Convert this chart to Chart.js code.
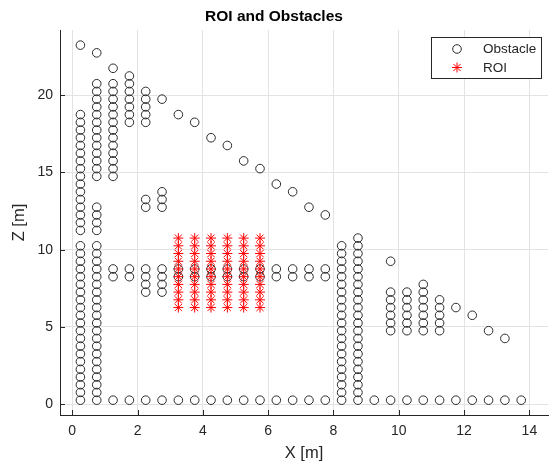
<!DOCTYPE html>
<html>
<head>
<meta charset="utf-8">
<title>ROI and Obstacles</title>
<script src="https://cdn.jsdelivr.net/npm/chart.js@4.4.0/dist/chart.umd.min.js"></script>
<style>
  html, body { margin: 0; padding: 0; background: #ffffff; }
  #wrap { width: 550px; height: 466px; position: relative; }
</style>
</head>
<body>
<div id="wrap"><canvas id="chart" width="550" height="466"></canvas></div>
<script>
// Obstacle cells: one x position per column, with the Z values occupied in that column
const obstacleX = [
  0.25, 0.75, 1.25, 1.75, 2.25, 2.75, 3.25, 3.75, 4.25, 4.75,
  5.25, 5.75, 6.25, 6.75, 7.25, 7.75, 8.25, 8.75, 9.25, 9.75,
  10.25, 10.75, 11.25, 11.75, 12.25, 12.75, 13.25, 13.75
];
const obstacleZ = [
  [23.25, 18.75, 18.25, 17.75, 17.25, 16.75, 16.25, 15.75, 15.25, 14.75, 14.25, 13.75, 13.25, 12.75, 12.25, 11.75, 11.25,
   10.25, 9.75, 9.25, 8.75, 8.25, 7.75, 7.25, 6.75, 6.25, 5.75, 5.25, 4.75, 4.25, 3.75, 3.25, 2.75, 2.25, 1.75, 1.25, 0.75, 0.25],
  [22.75, 20.75, 20.25, 19.75, 19.25, 18.75, 18.25, 17.75, 17.25, 16.75, 16.25, 15.75, 15.25, 14.75,
   12.75, 12.25, 11.75, 11.25,
   10.25, 9.75, 9.25, 8.75, 8.25, 7.75, 7.25, 6.75, 6.25, 5.75, 5.25, 4.75, 4.25, 3.75, 3.25, 2.75, 2.25, 1.75, 1.25, 0.75, 0.25],
  [21.75, 20.75, 20.25, 19.75, 19.25, 18.75, 18.25, 17.75, 17.25, 16.75, 16.25, 15.75, 15.25, 14.75, 8.75, 8.25, 0.25],
  [21.25, 20.75, 20.25, 19.75, 19.25, 18.75, 18.25, 8.75, 8.25, 0.25],
  [20.25, 19.75, 19.25, 18.75, 18.25, 13.25, 12.75, 8.75, 8.25, 7.75, 7.25, 0.25],
  [19.75, 13.75, 13.25, 12.75, 8.75, 8.25, 7.75, 7.25, 0.25],
  [18.75, 8.75, 8.25, 0.25],
  [18.25, 8.75, 8.25, 0.25],
  [17.25, 8.75, 8.25, 0.25],
  [16.75, 8.75, 8.25, 0.25],
  [15.75, 8.75, 8.25, 0.25],
  [15.25, 8.75, 8.25, 0.25],
  [14.25, 8.75, 8.25, 0.25],
  [13.75, 8.75, 8.25, 0.25],
  [12.75, 8.75, 8.25, 0.25],
  [12.25, 8.75, 8.25, 0.25],
  [10.25, 9.75, 9.25, 8.75, 8.25, 7.75, 7.25, 6.75, 6.25, 5.75, 5.25, 4.75, 4.25, 3.75, 3.25, 2.75, 2.25, 1.75, 1.25, 0.75, 0.25],
  [10.75, 10.25, 9.75, 9.25, 8.75, 8.25, 7.75, 7.25, 6.75, 6.25, 5.75, 5.25, 4.75, 4.25, 3.75, 3.25, 2.75, 2.25, 1.75, 1.25, 0.75, 0.25],
  [0.25],
  [9.25, 7.25, 6.75, 6.25, 5.75, 5.25, 4.75, 0.25],
  [7.25, 6.75, 6.25, 5.75, 5.25, 4.75, 0.25],
  [7.75, 7.25, 6.75, 6.25, 5.75, 5.25, 4.75, 0.25],
  [6.75, 6.25, 5.75, 5.25, 4.75, 0.25],
  [6.25, 0.25],
  [5.75, 0.25],
  [4.75, 0.25],
  [4.25, 0.25],
  [0.25]
];

// Region of interest: a block of cells spanned by these X and Z values
const roiX = [3.25, 3.75, 4.25, 4.75, 5.25, 5.75];
const roiZ = [10.75, 10.25, 9.75, 9.25, 8.75, 8.25, 7.75, 7.25, 6.75, 6.25];

// Axis ticks
const xTicks = [0, 2, 4, 6, 8, 10, 12, 14];
const zTicks = [0, 5, 10, 15, 20];

const seriesNames = ['Obstacle', 'ROI'];

const obstaclePoints = [];
obstacleX.forEach((x, i) => obstacleZ[i].forEach(z => obstaclePoints.push({ x: x, y: z })));
const roiPoints = [];
roiX.forEach(x => roiZ.forEach(z => roiPoints.push({ x: x, y: z })));

const AXIS_COLOR = '#262626';
const GRID_COLOR = '#e3e3e3';
const FONT = '"Liberation Sans", Arial, Helvetica, sans-serif';

// Short tick marks pointing into the plot, as on a MATLAB-style axes
const innerTicks = {
  id: 'innerTicks',
  afterDraw(chart) {
    const { ctx, chartArea, scales } = chart;
    const len = 5;
    ctx.save();
    ctx.strokeStyle = AXIS_COLOR;
    ctx.lineWidth = 1;
    ctx.beginPath();
    scales.x.ticks.forEach(t => {
      const px = Math.round(scales.x.getPixelForValue(t.value)) + 0.5;
      ctx.moveTo(px, chartArea.bottom);
      ctx.lineTo(px, chartArea.bottom - len);
    });
    scales.y.ticks.forEach(t => {
      const py = Math.round(scales.y.getPixelForValue(t.value)) + 0.5;
      ctx.moveTo(chartArea.left, py);
      ctx.lineTo(chartArea.left + len, py);
    });
    ctx.stroke();
    ctx.restore();
  }
};

// Boxed legend in the upper right corner of the plot
const boxLegend = {
  id: 'boxLegend',
  afterDraw(chart) {
    const { ctx, chartArea } = chart;
    const w = 110, h = 41;
    const left = chartArea.right - 117, top = chartArea.top + 7;
    ctx.save();
    ctx.fillStyle = '#ffffff';
    ctx.fillRect(left, top, w, h);
    ctx.strokeStyle = AXIS_COLOR;
    ctx.lineWidth = 1;
    ctx.strokeRect(Math.round(left) + 0.5, Math.round(top) + 0.5, w, h);
    seriesNames.forEach((name, i) => {
      const ds = chart.data.datasets.find(d => d.label === name);
      const cy = top + 12 + i * 18.5;
      const cx = left + 26;
      ctx.strokeStyle = ds.borderColor;
      ctx.fillStyle = ds.backgroundColor;
      ctx.lineWidth = ds.borderWidth;
      Chart.helpers.drawPoint(ctx, {
        pointStyle: ds.pointStyle, radius: ds.pointRadius, rotation: 0, borderWidth: ds.borderWidth
      }, cx, cy);
      ctx.fillStyle = AXIS_COLOR;
      ctx.font = '13.5px ' + FONT;
      ctx.textAlign = 'left';
      ctx.textBaseline = 'middle';
      ctx.fillText(name, left + 52, cy + 0.5);
    });
    ctx.restore();
  }
};

new Chart(document.getElementById('chart'), {
  type: 'scatter',
  data: {
    datasets: [
      {
        label: seriesNames[0],
        data: obstaclePoints,
        pointStyle: 'circle',
        pointRadius: 4.3,
        pointHoverRadius: 4.3,
        borderWidth: 1,
        borderColor: '#2b2b2b',
        backgroundColor: 'rgba(0,0,0,0)',
        order: 1
      },
      {
        label: seriesNames[1],
        data: roiPoints,
        pointStyle: 'star',
        pointRadius: 5,
        pointHoverRadius: 5,
        borderWidth: 1,
        borderColor: '#ff0000',
        backgroundColor: '#ff0000',
        order: 0
      }
    ]
  },
  options: {
    responsive: false,
    animation: false,
    events: [],
    layout: { autoPadding: false, padding: { left: 0, right: 2, top: 0, bottom: 0 } },
    plugins: {
      legend: { display: false },
      tooltip: { enabled: false },
      title: {
        display: true,
        text: 'ROI and Obstacles',
        color: '#000000',
        font: { family: FONT, size: 15.5, weight: 'bold' },
        padding: { top: 7.5, bottom: 3.9 }
      }
    },
    scales: {
      x: {
        type: 'linear',
        min: -0.375,
        max: 14.57,
        afterBuildTicks: s => { s.ticks = xTicks.map(v => ({ value: v })); },
        afterFit: s => { s.height = 51; s.paddingLeft = 0; s.paddingRight = 0; },
        grid: { color: GRID_COLOR, lineWidth: 1, drawTicks: false },
        border: { display: true, color: AXIS_COLOR, width: 1 },
        ticks: {
          color: AXIS_COLOR,
          padding: 8,
          maxRotation: 0,
          font: { family: FONT, size: 14 },
          callback: v => String(v)
        },
        title: {
          display: true,
          text: 'X [m]',
          color: AXIS_COLOR,
          font: { family: FONT, size: 16.5 },
          padding: { top: 0, bottom: 3 }
        }
      },
      y: {
        type: 'linear',
        min: -0.71,
        max: 24.23,
        afterBuildTicks: s => { s.ticks = zTicks.map(v => ({ value: v })); },
        afterFit: s => { s.width = 60; s.paddingTop = 0; s.paddingBottom = 0; },
        grid: { color: GRID_COLOR, lineWidth: 1, drawTicks: false },
        border: { display: true, color: AXIS_COLOR, width: 1 },
        ticks: {
          color: AXIS_COLOR,
          padding: 7,
          font: { family: FONT, size: 14 },
          callback: v => String(v)
        },
        title: {
          display: true,
          text: 'Z [m]',
          color: AXIS_COLOR,
          font: { family: FONT, size: 16.5 },
          padding: { top: 10, bottom: 0 }
        }
      }
    }
  },
  plugins: [innerTicks, boxLegend]
});
</script>
</body>
</html>
